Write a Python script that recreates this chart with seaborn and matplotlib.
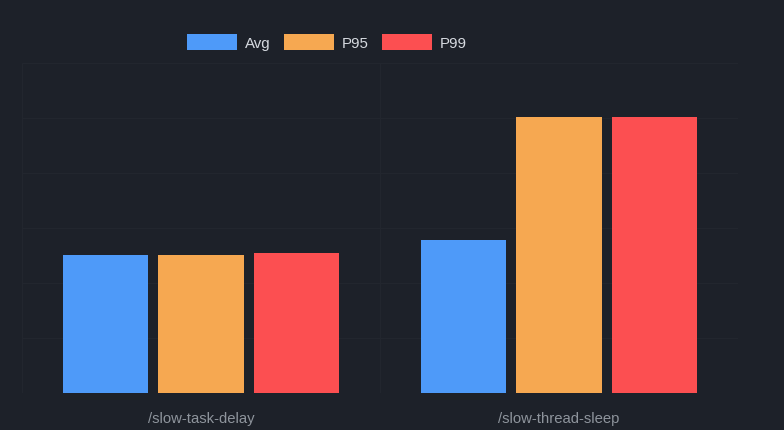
import matplotlib
matplotlib.use("Agg")
import matplotlib.pyplot as plt
import seaborn as sns
import pandas as pd

# ---- data (ms) ----
endpoints = ["/slow-task-delay", "/slow-thread-sleep"]
series_names = ["Avg", "P95", "P99"]
avg_vals = [2510, 2780]
p95_vals = [2510, 5020]
p99_vals = [2550, 5020]
colors = ["#4e9af9", "#f6a851", "#fc4f51"]

rows = []
for name, vals in zip(series_names, [avg_vals, p95_vals, p99_vals]):
    for ep, v in zip(endpoints, vals):
        rows.append({"endpoint": ep, "series": name, "value": v})
df = pd.DataFrame(rows)

BG = "#1d2129"
sns.set_theme(style="dark")
plt.rcParams["font.family"] = ["Liberation Sans", "DejaVu Sans"]

fig = plt.figure(figsize=(7.84, 4.31), dpi=100, facecolor=BG)
ax = fig.add_axes([22 / 784, 37 / 431, 716 / 784, 330 / 431])
ax.set_facecolor(BG)

sns.barplot(data=df, x="endpoint", y="value", hue="series",
            palette=colors, hue_order=series_names, order=endpoints,
            width=0.8, gap=0.1, saturation=1, ax=ax, legend=True,
            edgecolor="none", linewidth=0)

ax.set_ylim(0, 6000)
ax.set_xlim(-0.5, 1.5)
ax.set_yticks(range(0, 6001, 1000))
ax.set_yticklabels([])
ax.tick_params(axis="y", length=0)
ax.tick_params(axis="x", length=0, colors="#8e949c", labelsize=10.7, pad=13)
ax.set_xlabel("")
ax.set_ylabel("")
ax.grid(axis="y", color="#22262e", linewidth=1)
ax.set_axisbelow(True)
for xv in [-0.5, 0.5, 1.5]:
    ax.axvline(xv, color="#22262e", linewidth=1, zorder=0)
for s in ax.spines.values():
    s.set_visible(False)

handles, labels = ax.get_legend_handles_labels()
if ax.legend_:
    ax.legend_.remove()
leg = fig.legend(handles, labels, loc="center", bbox_to_anchor=(327 / 784, 1 - 43 / 431),
                 ncol=3, frameon=False, fontsize=10.8, handlelength=3.3,
                 handleheight=1.2, handletextpad=0.55, columnspacing=0.9,
                 labelcolor="#d6dae0")

fig.savefig("out.png", dpi=100, facecolor=BG)
